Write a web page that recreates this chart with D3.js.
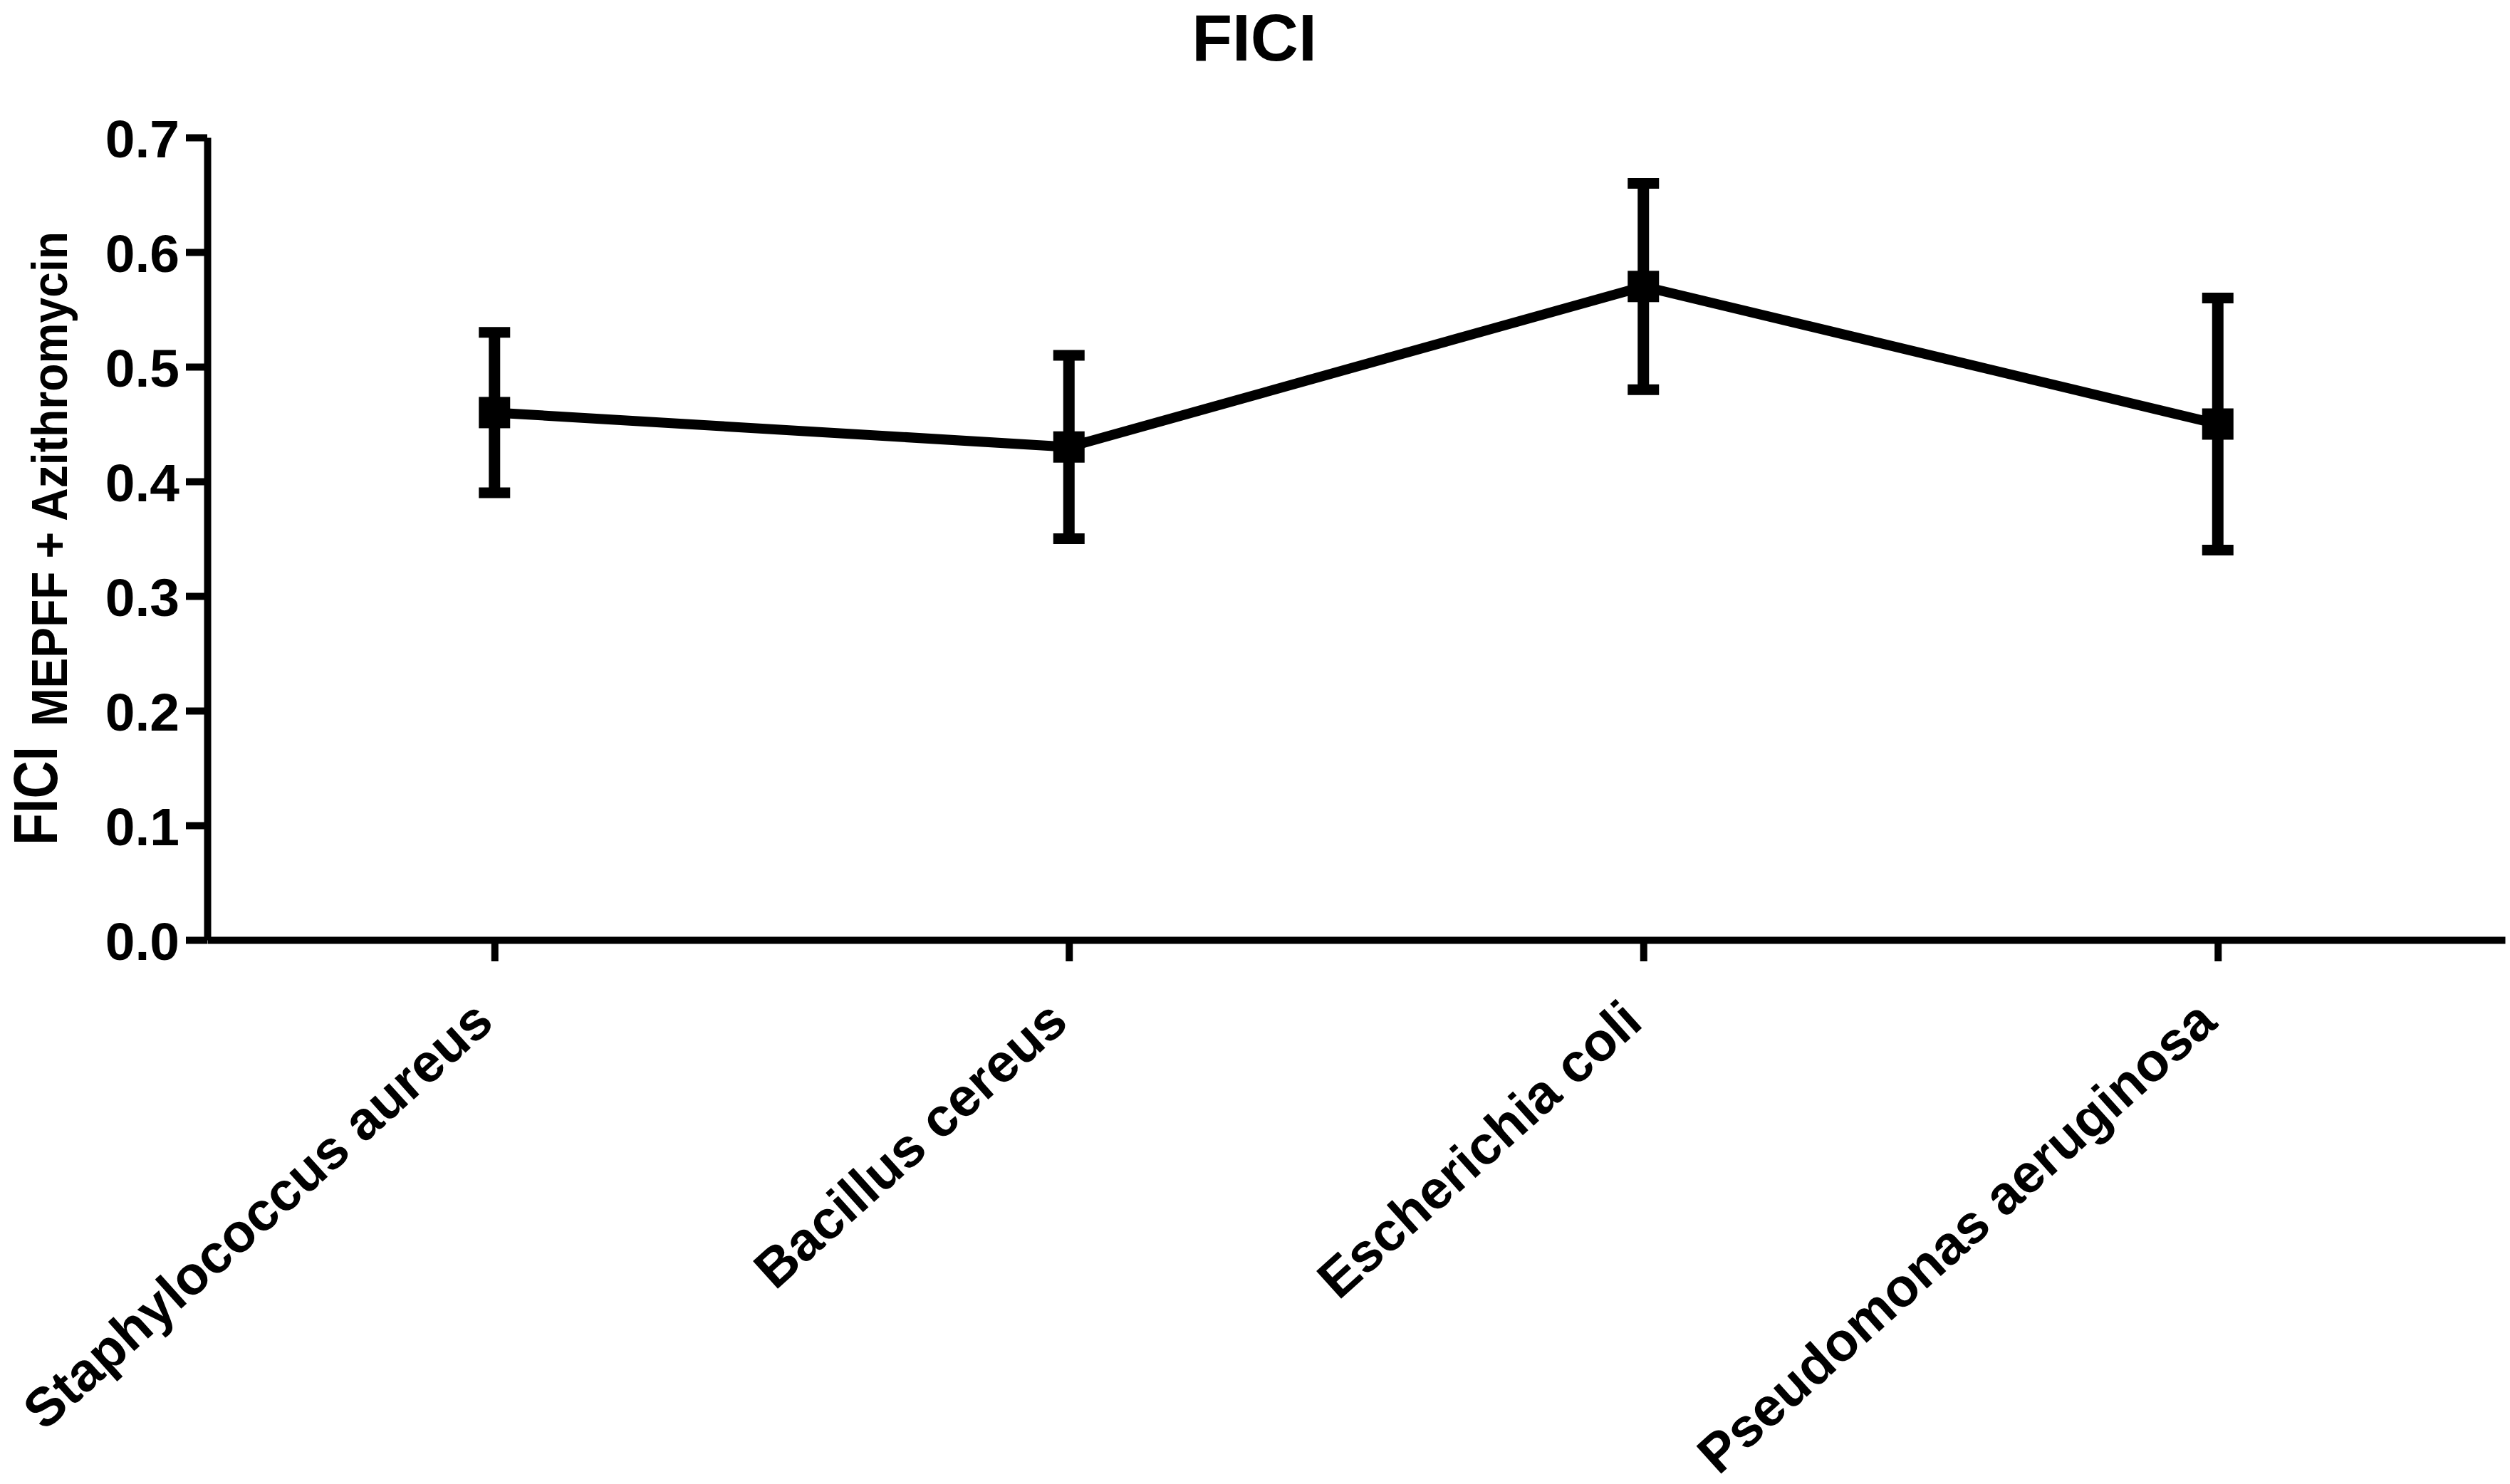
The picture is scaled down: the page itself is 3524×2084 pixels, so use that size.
<!DOCTYPE html>
<html>
<head>
<meta charset="utf-8">
<script src="https://cdn.jsdelivr.net/npm/d3@7"></script>
<style>
  html, body { margin: 0; padding: 0; background: #fff; }
  svg { display: block; }
  text { font-family: "Liberation Sans", Arial, sans-serif; font-weight: bold; fill: #000; }
</style>
</head>
<body>
<div id="chart"></div>
<script>
const strains = ["Staphylococcus aureus", "Bacillus cereus", "Escherichia coli", "Pseudomonas aeruginosa"]
const fici = [0.46, 0.43, 0.57, 0.45]
const ficiErr = [0.07, 0.08, 0.09, 0.11]
const yTicks = [0, 0.1, 0.2, 0.3, 0.4, 0.5, 0.6, 0.7]

const width = 3524
const height = 2084
const margin = { top: 193, right: 7, bottom: 764, left: 291 }

const points = strains.map((s, i) => ({
  strain: s,
  value: fici[i],
  err: ficiErr[i],
}))

const x = d3
  .scalePoint()
  .domain(strains)
  .range([margin.left, width - margin.right])
  .padding(0.5)

const y = d3
  .scaleLinear()
  .domain([0, 0.7])
  .range([height - margin.bottom, margin.top])

const svg = d3
  .select("#chart")
  .append("svg")
  .attr("width", width)
  .attr("height", height)

// title
svg
  .append("text")
  .attr("x", 1761)
  .attr("y", 85)
  .attr("text-anchor", "middle")
  .attr("font-size", 93)
  .text("FICI")

// y axis
const yAxis = svg
  .append("g")
  .attr("transform", `translate(${margin.left},0)`)
  .call(
    d3
      .axisLeft(y)
      .tickValues(yTicks)
      .tickFormat(d3.format(".1f"))
      .tickSize(30)
      .tickSizeOuter(0)
      .tickPadding(9)
  )
yAxis.select(".domain").attr("stroke", "#000").attr("stroke-width", 10)
yAxis.selectAll(".tick line").attr("stroke", "#000").attr("stroke-width", 10)
yAxis
  .selectAll(".tick text")
  .attr("font-size", 75)
  .attr("dy", "0.36em")
  .style("font-family", '"Liberation Sans", Arial, sans-serif')
  .style("font-weight", "bold")

// x axis
const xAxis = svg
  .append("g")
  .attr("transform", `translate(0,${y(0)})`)
  .call(d3.axisBottom(x).tickSize(30).tickSizeOuter(0).tickFormat(""))
xAxis.select(".domain").attr("stroke", "#000").attr("stroke-width", 10)
xAxis.selectAll(".tick line").attr("stroke", "#000").attr("stroke-width", 10)

// rotated category labels
svg
  .append("g")
  .selectAll("text")
  .data(strains)
  .enter()
  .append("text")
  .attr("transform", (d) => `translate(${x(d) + 2},${y(0) + 120}) rotate(-42)`)
  .attr("text-anchor", "end")
  .attr("font-size", 76)
  .text((d) => d)

// y axis title with subscript
svg
  .append("text")
  .attr("transform", "translate(80,1187) rotate(-90)")
  .attr("font-size", 88)
  .attr("textLength", 139)
  .attr("lengthAdjust", "spacingAndGlyphs")
  .text("FICI")
svg
  .append("text")
  .attr("transform", "translate(94,1020) rotate(-90)")
  .attr("font-size", 70)
  .attr("textLength", 695)
  .attr("lengthAdjust", "spacingAndGlyphs")
  .text("MEPFF + Azithromycin")

// connecting line
const line = d3
  .line()
  .x((d) => x(d.strain))
  .y((d) => y(d.value))

svg
  .append("path")
  .datum(points)
  .attr("d", line)
  .attr("fill", "none")
  .attr("stroke", "#000")
  .attr("stroke-width", 14)
  .attr("stroke-linejoin", "round")

// error bars
const capW = 44
const bars = svg.append("g").selectAll("g").data(points).enter().append("g")
bars
  .append("line")
  .attr("x1", (d) => x(d.strain))
  .attr("x2", (d) => x(d.strain))
  .attr("y1", (d) => y(d.value + d.err))
  .attr("y2", (d) => y(d.value - d.err))
  .attr("stroke", "#000")
  .attr("stroke-width", 16)
bars
  .selectAll(".cap")
  .data((d) => [
    { strain: d.strain, v: d.value + d.err },
    { strain: d.strain, v: d.value - d.err },
  ])
  .enter()
  .append("line")
  .attr("class", "cap")
  .attr("x1", (d) => x(d.strain) - capW / 2)
  .attr("x2", (d) => x(d.strain) + capW / 2)
  .attr("y1", (d) => y(d.v))
  .attr("y2", (d) => y(d.v))
  .attr("stroke", "#000")
  .attr("stroke-width", 15)

// square markers
const sq = 44
svg
  .append("g")
  .selectAll("rect")
  .data(points)
  .enter()
  .append("rect")
  .attr("x", (d) => x(d.strain) - sq / 2)
  .attr("y", (d) => y(d.value) - sq / 2)
  .attr("width", sq)
  .attr("height", sq)
  .attr("fill", "#000")
</script>
</body>
</html>
